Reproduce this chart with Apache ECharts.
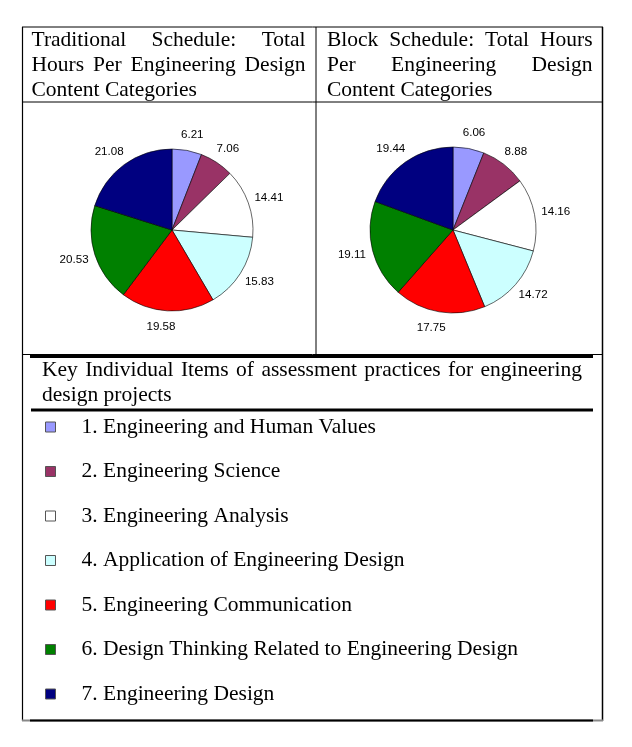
<!DOCTYPE html>
<html><head><meta charset="utf-8">
<script src="https://cdn.jsdelivr.net/npm/echarts@6/dist/echarts.min.js"></script>
<style>html,body{margin:0;padding:0;background:#fff}#c{width:632px;height:747px}</style>
</head><body><div id="c"></div>
<script>
// ---- data ----
const categories = [
  '1. Engineering and Human Values',
  '2. Engineering Science',
  '3. Engineering Analysis',
  '4. Application of Engineering Design',
  '5. Engineering Communication',
  '6. Design Thinking Related to Engineering Design',
  '7. Engineering Design'
];
const traditionalHours = [6.21, 7.06, 14.41, 15.83, 19.58, 20.53, 21.08];
const blockHours = [6.06, 8.88, 14.16, 14.72, 17.75, 19.11, 19.44];
const sliceColors = ['#9999FF', '#993366', '#FFFFFF', '#CCFFFF', '#FF0000', '#008000', '#000080'];
const traditionalTitleLines = ['Traditional Schedule: Total', 'Hours Per Engineering Design', 'Content Categories'];
const blockTitleLines = ['Block Schedule: Total Hours', 'Per Engineering Design', 'Content Categories'];
const keyTitleLines = ['Key Individual Items of assessment practices for engineering', 'design projects'];

// ---- helpers ----
const SERIF = '"Liberation Serif", "Times New Roman", serif';
const SERIF_SIZE = 21.5;
const mctx = document.createElement('canvas').getContext('2d');
function paragraph(lines, x0, x1, baseline0, lineStep) {
  mctx.font = SERIF_SIZE + 'px ' + SERIF;
  const els = [];
  lines.forEach((line, li) => {
    const words = line.split(' ');
    const widths = words.map(w => mctx.measureText(w).width);
    const total = widths.reduce((a, b) => a + b, 0);
    const last = li === lines.length - 1;
    const gap = (!last && words.length > 1) ? (x1 - x0 - total) / (words.length - 1) : mctx.measureText(' ').width;
    let x = x0;
    const yMid = baseline0 + li * lineStep - 0.305 * SERIF_SIZE;
    words.forEach((w, i) => {
      els.push({ type: 'text', x: x, y: yMid, silent: true,
        style: { text: w, fontFamily: SERIF, fontSize: SERIF_SIZE, fill: '#000', align: 'left', verticalAlign: 'middle' } });
      x += widths[i] + gap;
    });
  });
  return els;
}
function hline(y, xa, xb, w, color) {
  return { type: 'line', silent: true, shape: { x1: xa, y1: y, x2: xb, y2: y }, style: { stroke: color || '#000', lineWidth: w } };
}
function vline(x, ya, yb, w, color) {
  return { type: 'line', silent: true, shape: { x1: x, y1: ya, x2: x, y2: yb }, style: { stroke: color || '#000', lineWidth: w } };
}

function pieSeries(name, values, center, radius) {
  return {
    name: name, type: 'pie', center: center, radius: radius,
    startAngle: 90, clockwise: true, avoidLabelOverlap: false,
    animation: false, silent: true,
    itemStyle: { borderColor: '#000', borderWidth: 0.6 },
    label: { show: true, position: 'outside', formatter: p => String(p.value),
      color: '#000', fontFamily: '"Liberation Sans", Arial, sans-serif', fontSize: 11.6,
      distanceToLabelLine: -9 },
    labelLine: { show: false, length: 16, length2: 0 },
    emphasis: { disabled: true },
    data: categories.map((c, i) => ({ name: c, value: values[i], itemStyle: { color: sliceColors[i] } }))
  };
}

const graphics = [].concat(
  paragraph(traditionalTitleLines, 31.5, 305.5, 47.3, 24.8),
  paragraph(blockTitleLines, 327, 592.5, 47.3, 24.8),
  paragraph(keyTitleLines, 42, 582, 377, 24.8),
  [
    hline(27, 22, 603, 1),
    vline(22.5, 27, 721, 1.2),
    vline(602.5, 27, 721, 1.5),
    vline(316, 27, 354, 1),
    hline(102, 22, 603, 1),
    hline(354.5, 22, 603, 1),
    hline(356.5, 30, 593, 3),
    hline(410, 31, 593, 3),
    hline(720.5, 22, 603, 2, '#888'),
    hline(720.5, 30, 593, 2, '#000')
  ]
);

const chart = echarts.init(document.getElementById('c'), null, { renderer: 'canvas' });
chart.setOption({
  backgroundColor: '#fff',
  animation: false,
  legend: {
    orient: 'vertical', left: 45, top: 411, padding: 0,
    itemGap: 12.5, itemWidth: 10, itemHeight: 10, icon: 'rect',
    selectedMode: false,
    itemStyle: { borderColor: '#555', borderWidth: 1 },
    textStyle: { fontFamily: SERIF, fontSize: SERIF_SIZE, color: '#000', lineHeight: 22, padding: [0, 0, 10, 21] },
    data: categories
  },
  series: [
    pieSeries('Traditional Schedule', traditionalHours, [172, 230], 81),
    pieSeries('Block Schedule', blockHours, [453, 230], 83)
  ],
  graphic: graphics
});
</script></body></html>
